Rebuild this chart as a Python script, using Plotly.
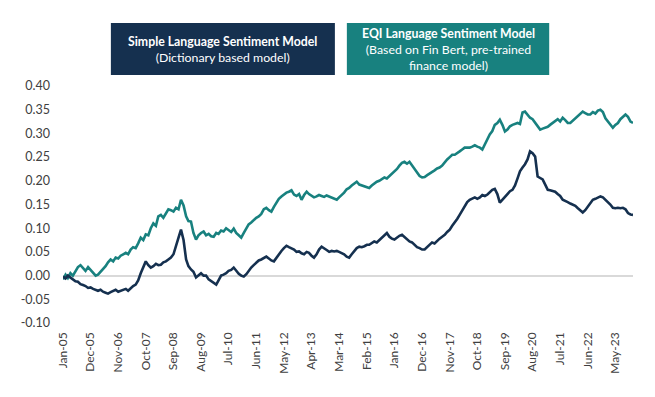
import plotly.graph_objects as go
import pandas as pd

months = pd.date_range("2005-01-01", "2023-12-01", freq="MS")

eqi_model = [
    -0.008, 0.002, -0.005, 0.005, 0.0, 0.01, 0.018, 0.022, 0.015, 0.01, 0.018, 0.012,
    0.005, 0.0, 0.002, 0.008, 0.012, 0.02, 0.028, 0.034, 0.03, 0.038, 0.036, 0.042,
    0.045, 0.048, 0.045, 0.055, 0.06, 0.058, 0.068, 0.08, 0.075, 0.087, 0.085, 0.1,
    0.11, 0.105, 0.125, 0.128, 0.122, 0.13, 0.14, 0.138, 0.135, 0.143, 0.14, 0.16,
    0.148, 0.125, 0.115, 0.114, 0.09, 0.076, 0.085, 0.09, 0.093, 0.085, 0.088, 0.083,
    0.082, 0.09, 0.088, 0.095, 0.093, 0.1, 0.096, 0.092, 0.099, 0.09, 0.085, 0.08,
    0.09, 0.1, 0.108, 0.112, 0.118, 0.122, 0.125, 0.13, 0.14, 0.143, 0.138, 0.135,
    0.145, 0.155, 0.162, 0.167, 0.172, 0.175, 0.177, 0.18, 0.171, 0.168, 0.172, 0.16,
    0.17, 0.177, 0.172, 0.168, 0.165, 0.167, 0.17, 0.168, 0.166, 0.169, 0.167, 0.165,
    0.162, 0.16, 0.165, 0.17, 0.175, 0.182, 0.185, 0.19, 0.195, 0.198, 0.192, 0.19,
    0.188, 0.186, 0.185, 0.19, 0.195, 0.198, 0.2, 0.203, 0.207, 0.205, 0.21, 0.213,
    0.218, 0.225, 0.232, 0.238, 0.24, 0.236, 0.24, 0.232, 0.225, 0.218, 0.21, 0.207,
    0.208, 0.212, 0.215, 0.217, 0.222, 0.226, 0.228, 0.232, 0.24, 0.245, 0.25, 0.255,
    0.255, 0.258, 0.262, 0.266, 0.27, 0.27, 0.27, 0.272, 0.275, 0.272, 0.27, 0.266,
    0.278, 0.287, 0.298, 0.305, 0.318, 0.322, 0.329, 0.318, 0.304, 0.308, 0.315, 0.318,
    0.32, 0.322, 0.32, 0.344, 0.346, 0.34, 0.333, 0.33, 0.322, 0.315, 0.308, 0.31,
    0.312, 0.314, 0.318, 0.322, 0.326, 0.33, 0.325, 0.333, 0.328, 0.322, 0.322, 0.327,
    0.332, 0.336, 0.342, 0.346, 0.343, 0.34, 0.34, 0.345, 0.342, 0.348, 0.35, 0.345,
    0.332, 0.325, 0.318, 0.312, 0.318, 0.322, 0.33, 0.336, 0.34, 0.335, 0.325, 0.322,
]

simple_model = [
    -0.002, -0.006, 0.0, -0.004, -0.008, -0.012, -0.013, -0.018, -0.02, -0.022, -0.026, -0.025,
    -0.028, -0.03, -0.032, -0.03, -0.034, -0.036, -0.038, -0.035, -0.033, -0.03, -0.034, -0.032,
    -0.03, -0.028, -0.032, -0.026, -0.022, -0.019, -0.01, 0.005, 0.02, 0.03, 0.022, 0.017,
    0.02, 0.025, 0.022, 0.023, 0.028, 0.03, 0.034, 0.038, 0.045, 0.06, 0.08, 0.097,
    0.075, 0.034, 0.02, 0.013, 0.008, -0.004, 0.0, 0.005, 0.0, 0.0, -0.008, -0.012,
    -0.015, -0.019, -0.01, 0.0, 0.002, 0.005, 0.01, 0.012, 0.017, 0.01, 0.004, 0.0,
    -0.002, 0.003, 0.01, 0.017, 0.022, 0.028, 0.032, 0.034, 0.038, 0.04, 0.036, 0.032,
    0.03, 0.038, 0.045, 0.052, 0.058, 0.063, 0.06, 0.058, 0.055, 0.05, 0.051, 0.047,
    0.045, 0.05, 0.048, 0.042, 0.038, 0.045, 0.055, 0.061, 0.058, 0.054, 0.05, 0.052,
    0.051, 0.052, 0.05, 0.048, 0.045, 0.04, 0.038, 0.045, 0.052, 0.058, 0.061, 0.06,
    0.062, 0.065, 0.065, 0.068, 0.072, 0.07, 0.075, 0.08, 0.085, 0.09, 0.082, 0.078,
    0.076, 0.08, 0.084, 0.086, 0.082, 0.076, 0.072, 0.07, 0.065, 0.06, 0.058, 0.055,
    0.055, 0.06, 0.065, 0.07, 0.068, 0.074, 0.078, 0.082, 0.086, 0.092, 0.097, 0.105,
    0.112, 0.12, 0.128, 0.138, 0.148, 0.155, 0.16, 0.162, 0.165, 0.162, 0.165, 0.17,
    0.168, 0.171, 0.176, 0.181, 0.183, 0.172, 0.154, 0.16, 0.166, 0.172, 0.178, 0.181,
    0.19, 0.205, 0.22, 0.228, 0.235, 0.245, 0.262, 0.258, 0.251, 0.209, 0.205, 0.203,
    0.192, 0.181, 0.18, 0.178, 0.177, 0.172, 0.168, 0.16, 0.158, 0.155, 0.152, 0.15,
    0.147, 0.142, 0.138, 0.133, 0.138, 0.145, 0.152, 0.16, 0.162, 0.165, 0.167, 0.165,
    0.16, 0.156, 0.15, 0.143, 0.142, 0.143, 0.142, 0.143, 0.14, 0.132, 0.129, 0.128,
]

tick_labels = ["Jan-05", "Dec-05", "Nov-06", "Oct-07", "Sep-08", "Aug-09", "Jul-10",
               "Jun-11", "May-12", "Apr-13", "Mar-14", "Feb-15", "Jan-16", "Dec-16",
               "Nov-17", "Oct-18", "Sep-19", "Aug-20", "Jul-21", "Jun-22", "May-23"]
tick_vals = [pd.to_datetime(t, format="%b-%y") for t in tick_labels]

y_ticks = [-0.10, -0.05, 0.0, 0.05, 0.10, 0.15, 0.20, 0.25, 0.30, 0.35, 0.40]

NAVY = "#15304f"
TEAL = "#18817f"
FONT = "Lato"

fig = go.Figure()
fig.add_trace(go.Scatter(x=months, y=eqi_model, mode="lines",
                         line=dict(color=TEAL, width=2.6),
                         name="EQI Language Sentiment Model"))
fig.add_trace(go.Scatter(x=months, y=simple_model, mode="lines",
                         line=dict(color=NAVY, width=2.6),
                         name="Simple Language Sentiment Model"))

fig.update_layout(
    width=647, height=389,
    margin=dict(l=55, r=22, t=78, b=74),
    paper_bgcolor="white", plot_bgcolor="white",
    showlegend=False,
    font=dict(family=FONT, size=12, color="#404040"),
    xaxis=dict(
        range=[months[0], months[-1]], automargin=False,
        tickmode="array", tickvals=tick_vals, ticktext=tick_labels,
        tickangle=-90, showgrid=False, zeroline=False, showline=False,
        ticks="", ticklabelstandoff=6,
        tickfont=dict(family=FONT, size=12, color="#404040"),
    ),
    yaxis=dict(
        range=[-0.10, 0.40], automargin=False,
        tickmode="array", tickvals=y_ticks,
        ticktext=[f"{v:.2f}" for v in y_ticks],
        showgrid=False, zeroline=True, zerolinecolor="#d9d9d9", zerolinewidth=1.5,
        showline=False, ticks="", ticklabelstandoff=12,
        tickfont=dict(family=FONT, size=12.5, color="#404040"),
    ),
    shapes=[
        dict(type="rect", xref="paper", yref="paper", x0=0.084, x1=0.477,
             y0=1.046, y1=1.266, fillcolor=NAVY, line=dict(width=0), layer="above"),
        dict(type="rect", xref="paper", yref="paper", x0=0.498, x1=0.853,
             y0=1.046, y1=1.266, fillcolor=TEAL, line=dict(width=0), layer="above"),
    ],
    annotations=[
        dict(xref="paper", yref="paper", x=(0.084 + 0.477) / 2, y=1.156,
             text="<b>Simple Language Sentiment Model</b><br>(Dictionary based model)",
             showarrow=False, align="center", xanchor="center", yanchor="middle",
             font=dict(family=FONT, size=12.3, color="white")),
        dict(xref="paper", yref="paper", x=(0.498 + 0.853) / 2, y=1.156,
             text="<b>EQI Language Sentiment Model</b><br>(Based on Fin Bert, pre-trained<br>finance model)",
             showarrow=False, align="center", xanchor="center", yanchor="middle",
             font=dict(family=FONT, size=12.3, color="white")),
    ],
)

fig.write_html("out.html")
